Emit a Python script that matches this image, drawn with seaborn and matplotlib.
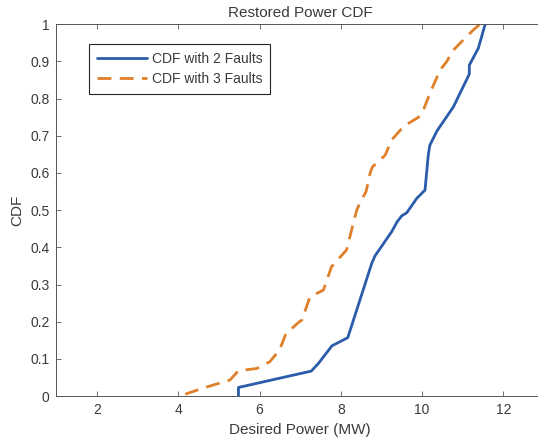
import numpy as np
import pandas as pd
import matplotlib
matplotlib.use("Agg")
import matplotlib.pyplot as plt
import seaborn as sns

# ─────────────────────────────────────────────
# DATA
# ─────────────────────────────────────────────
power_2faults = [5.48, 5.48, 7.27, 7.45, 7.78, 8.17, 8.76, 8.84, 9.25, 9.38,
                 9.50, 9.62, 9.87, 10.07, 10.15, 10.19, 10.37, 10.77, 11.16,
                 11.16, 11.38, 11.55]
cdf_2faults = [0.0, 0.023, 0.067, 0.088, 0.135, 0.157, 0.357, 0.377, 0.442, 0.468,
               0.485, 0.493, 0.532, 0.554, 0.648, 0.675, 0.714, 0.778, 0.866,
               0.890, 0.935, 1.0]

power_3faults = [4.17, 4.66, 5.27, 5.48, 5.93, 6.25, 6.49, 6.65, 6.98, 7.04,
                 7.24, 7.57, 7.77, 8.14, 8.18, 8.39, 8.47, 8.62, 8.72, 8.78,
                 8.92, 9.09, 9.25, 9.55, 9.91, 10.0, 10.19, 10.44, 10.60, 10.77,
                 11.26, 11.42]
cdf_3faults = [0.005, 0.023, 0.043, 0.068, 0.074, 0.092, 0.124, 0.168, 0.200, 0.204,
               0.267, 0.285, 0.348, 0.393, 0.411, 0.500, 0.520, 0.550, 0.600, 0.617,
               0.630, 0.648, 0.689, 0.726, 0.750, 0.761, 0.814, 0.877, 0.899, 0.931,
               0.985, 1.0]

labels = ["CDF with 2 Faults", "CDF with 3 Faults"]
x_ticks = [2, 4, 6, 8, 10, 12]
y_ticks = [0, 0.1, 0.2, 0.3, 0.4, 0.5, 0.6, 0.7, 0.8, 0.9, 1]
y_tick_labels = ["0", "0.1", "0.2", "0.3", "0.4", "0.5", "0.6", "0.7", "0.8", "0.9", "1"]

# ─────────────────────────────────────────────
# STYLE
# ─────────────────────────────────────────────
sns.set_style("ticks")
plt.rcParams["font.family"] = ["Liberation Sans", "DejaVu Sans"]
TEXT = "#3a3a3a"
EDGE = "#555555"
plt.rcParams["axes.edgecolor"] = EDGE
plt.rcParams["text.color"] = TEXT
plt.rcParams["axes.labelcolor"] = TEXT
plt.rcParams["xtick.color"] = EDGE
plt.rcParams["ytick.color"] = EDGE
plt.rcParams["xtick.labelcolor"] = TEXT
plt.rcParams["ytick.labelcolor"] = TEXT

BLUE = "#2B5CAB"
ORANGE = "#E0802A"

df = pd.concat([
    pd.DataFrame({"power": power_2faults, "cdf": cdf_2faults, "case": labels[0]}),
    pd.DataFrame({"power": power_3faults, "cdf": cdf_3faults, "case": labels[1]}),
], ignore_index=True)

fig = plt.figure(figsize=(5.38, 4.41), dpi=100)
ax = fig.add_axes([0.1048, 0.102, 0.9065, 0.8429])

sns.lineplot(data=df, x="power", y="cdf", hue="case", style="case",
             palette={labels[0]: BLUE, labels[1]: ORANGE},
             dashes={labels[0]: "", labels[1]: (5, 3)},
             sort=False, estimator=None, linewidth=2.0, ax=ax)

ax.set_xlim(1, 13)
ax.set_ylim(0, 1)
ax.set_xticks(x_ticks)
ax.set_yticks(y_ticks)
ax.set_yticklabels(y_tick_labels)
ax.tick_params(direction="in", length=3.5, width=0.6, labelsize=10,
               top=True, right=True, pad=5)
for sp in ax.spines.values():
    sp.set_linewidth(0.7)

ax.set_title("Restored Power CDF", fontsize=11, pad=5)
ax.set_xlabel("Desired Power (MW)", fontsize=11, labelpad=4)
ax.set_ylabel("CDF", fontsize=11, labelpad=4)

leg = ax.legend(loc="upper left", bbox_to_anchor=(0.0668, 0.947), borderaxespad=0,
                fontsize=10, frameon=True, fancybox=False, framealpha=1,
                edgecolor="#262626", handlelength=3.6, handletextpad=0.4,
                borderpad=0.55, labelspacing=0.45)
leg.get_frame().set_linewidth(0.8)

fig.savefig("out.png", dpi=100)
